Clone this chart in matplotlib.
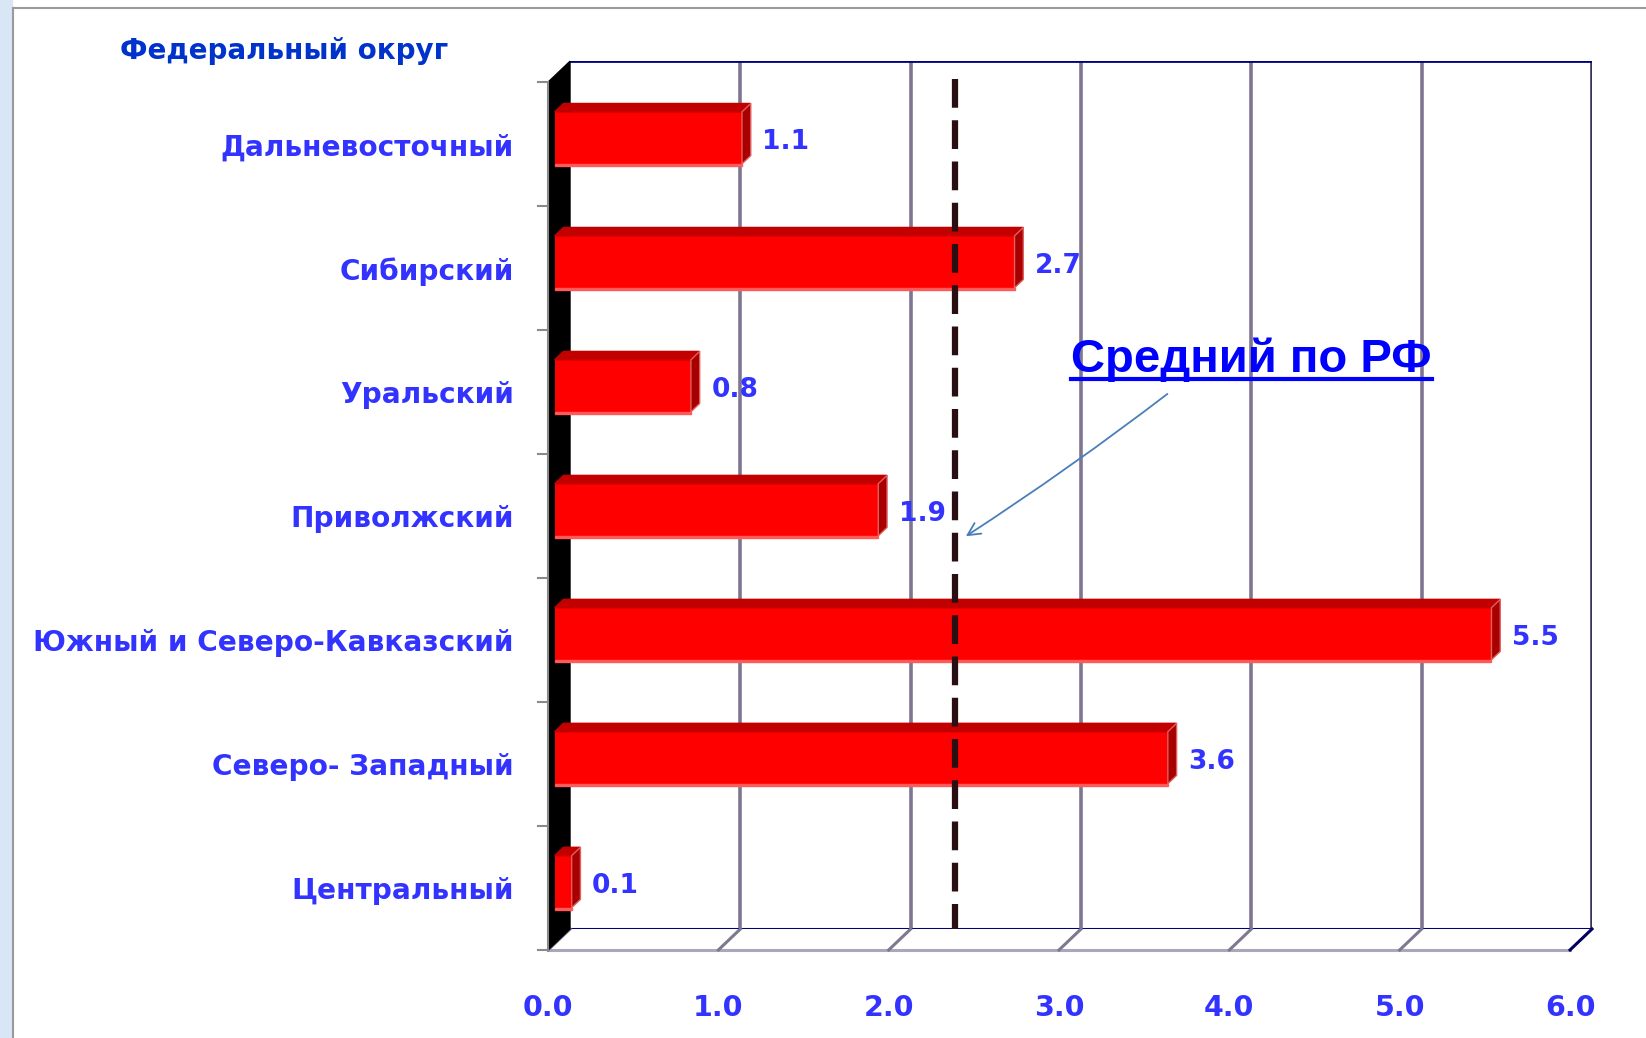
import matplotlib
matplotlib.use('Agg')
import matplotlib.pyplot as plt
from matplotlib.patches import Polygon, Rectangle
from matplotlib.lines import Line2D

# данные (снизу вверх)
regions = ['Центральный', 'Северо- Западный', 'Южный и Северо-Кавказский',
           'Приволжский', 'Уральский', 'Сибирский', 'Дальневосточный']
values = [0.1, 3.6, 5.5, 1.9, 0.8, 2.7, 1.1]
x_ticks = [0, 1, 2, 3, 4, 5, 6]
x_labels = ['0.0', '1.0', '2.0', '3.0', '4.0', '5.0', '6.0']
mean_rf = 2.3
axis_title = 'Федеральный округ'
mean_label = 'Средний по РФ'

plt.rcParams['font.family'] = ['DejaVu Sans']

BLUE = '#3333FF'
DX, DY = -0.129, -0.169   # сдвиг глубины: задняя стенка -> передний план
n = len(regions)
y_top = n - 0.5

fig = plt.figure(figsize=(16.46, 10.38), dpi=100)
fig.patch.set_facecolor('white')
# рамка слайда
fig.add_artist(Rectangle((0, 0), 12 / 1646, 1, transform=fig.transFigure,
                         color='#D8E6F5', zorder=0))
fig.add_artist(Line2D([13 / 1646, 13 / 1646], [0, 1 - 8 / 1038],
                      transform=fig.transFigure, color='#9A9A9A', lw=1.5))
fig.add_artist(Line2D([13 / 1646, 1], [1 - 8 / 1038, 1 - 8 / 1038],
                      transform=fig.transFigure, color='#9A9A9A', lw=1.5))

ax = fig.add_axes([0.3463, 0.105, 0.6209, 0.836])
ax.set_xlim(0, 6)
ax.set_ylim(-0.5, y_top)
ax.axis('off')

# задняя стенка: сетка
for t in x_ticks[1:-1]:
    ax.plot([t, t], [-0.5, y_top], color='#7E7691', lw=2.6, zorder=1,
            solid_capstyle='butt')
ax.plot([6, 6], [-0.5, y_top], color='#3C3458', lw=2.6, zorder=1)
ax.plot([0, 6], [y_top, y_top], color='#000080', lw=2, zorder=1)
ax.plot([0, 6], [-0.5, -0.5], color='#000080', lw=2.2, zorder=2)

# пол
ax.plot([DX, 6 + DX], [-0.5 + DY, -0.5 + DY], color='#ABA6BC', lw=2.2,
        zorder=2, clip_on=False)
for t in x_ticks:
    c = '#000060' if t == x_ticks[-1] else '#7E7890'
    ax.plot([t + DX, t], [-0.5 + DY, -0.5], color=c, lw=2.2, zorder=2,
            clip_on=False)

# левая стенка
ax.add_patch(Polygon([(0, y_top), (0, -0.5), (DX, -0.5 + DY), (DX, y_top + DY)],
                     closed=True, color='black', zorder=3, clip_on=False))
ax.plot([DX, DX], [y_top + DY, -0.5 + DY], color='#8A8A8A', lw=1.5, zorder=3,
        clip_on=False)
for k in range(n + 1):
    yy = k - 0.5 + DY
    ax.plot([DX - 0.06, DX], [yy, yy], color='#8A8A8A', lw=1.5, zorder=3,
            clip_on=False)

# столбцы
df, db, h = 0.7, 0.3, 0.42
fx0, fy = df * DX, df * DY
bx0, by = db * DX, db * DY
ys = [i + fy for i in range(n)]
ax.barh(ys, values, height=h, left=fx0, color='#FF0000', zorder=4,
        clip_on=False)
for i, v in enumerate(values):
    ax.add_patch(Polygon([(fx0, i + fy + h / 2), (v + fx0, i + fy + h / 2),
                          (v + bx0, i + by + h / 2), (bx0, i + by + h / 2)],
                         closed=True, color='#C20000', zorder=4, clip_on=False))
    ax.add_patch(Polygon([(v + fx0, i + fy - h / 2), (v + fx0, i + fy + h / 2),
                          (v + bx0, i + by + h / 2), (v + bx0, i + by - h / 2)],
                         closed=True, facecolor='#A80000', edgecolor='#E06060',
                         lw=1, zorder=4, clip_on=False))
    ax.add_patch(Rectangle((fx0, i + fy - h / 2 - 0.02), v, 0.02,
                           color='#FF5A5A', zorder=4, clip_on=False))
    ax.text(v + 0.03, i - 0.15, f'{v:.1f}', ha='left', va='center',
            fontsize=19, fontweight='bold', color=BLUE, zorder=7)

# средний по РФ
ax.plot([mean_rf + 0.3 * DX] * 2, [6.356, -0.5], color='#2A0F12', lw=4.5,
        ls=(0, (4.6, 2)), zorder=6, clip_on=False)
ax.annotate('', xy=(2.31, 2.656), xytext=(3.52, 3.83),
            arrowprops=dict(arrowstyle='->,head_length=0.9,head_width=0.45',
                            color='#4A7EBB', lw=1.3,
                            connectionstyle='arc3,rad=-0.02'), zorder=7)
txt = ax.text(4.0, 4.09, mean_label, ha='center', va='center', fontsize=34,
              fontweight='bold', color='#0000FF',
              family=['Liberation Sans', 'DejaVu Sans'], zorder=7)

# подписи осей
for i, name in enumerate(regions):
    ax.text(-0.33, i + DY - 0.025, name, ha='right', va='center', fontsize=20.2,
            fontweight='bold', color=BLUE, clip_on=False)
for t, lab in zip(x_ticks, x_labels):
    ax.text(t + DX, -1.137, lab, ha='center', va='center', fontsize=20.5,
            fontweight='bold', color=BLUE, clip_on=False)
fig.text(0.1727, 0.951, axis_title, ha='center', va='center', fontsize=20,
         fontweight='bold', color='#0033CC')

# подчёркивание
fig.canvas.draw()
bb = txt.get_window_extent()
W, H = fig.bbox.width, fig.bbox.height
uy = (bb.y0 + 3) / H
fig.add_artist(Line2D([bb.x0 / W, bb.x1 / W], [uy, uy],
                      transform=fig.transFigure, color='#0000FF', lw=3))

fig.savefig('out.png', dpi=100)
